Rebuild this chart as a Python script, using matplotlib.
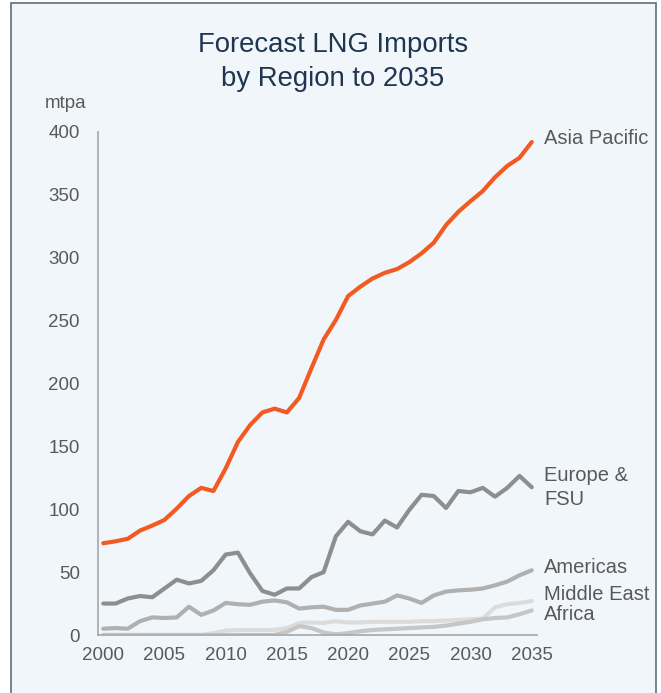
import matplotlib
matplotlib.use("Agg")
import matplotlib.pyplot as plt
from matplotlib.patches import Rectangle

plt.rcParams['font.family'] = ['Liberation Sans', 'DejaVu Sans']

# years 2000-2035
years = list(range(2000, 2036))

asia_pacific = [73, 74.5, 76.5, 83, 87, 91.5, 100.5, 110.5, 117, 114.5,
                132.5, 153.5, 167, 177, 180, 177, 188.5, 212, 235, 250.5,
                269.5, 277, 283.5, 288, 291, 296.5, 303.5, 312, 326, 336.5,
                345, 353, 364, 373, 379.5, 392]
europe_fsu = [25, 25, 29, 31, 30, 37, 44, 41, 43, 51.5,
              64, 65.5, 49, 35, 32, 37, 37, 46, 50, 78.5,
              90, 82.5, 80, 91, 85.5, 99.5, 111.5, 110.5, 101, 114.5,
              113.5, 117, 110, 117, 126.5, 117.5]
americas = [5, 5.5, 5, 11, 14, 13.5, 14, 22.5, 16, 19.5,
            25.5, 24.5, 24, 26.5, 27.5, 26, 21, 22, 22.5, 20,
            20, 23.5, 25, 26.5, 31.5, 29, 25.5, 31.5, 34.5, 35.5,
            36, 37, 39.5, 42.5, 47.5, 51.5]
middle_east = [0, 0, 0, 0, 0, 0, 0, 0, 0, 1.5,
               3.5, 4, 4, 4, 4, 5.5, 9.5, 10, 9.5, 11,
               10, 10, 10.5, 10.5, 10.5, 10.5, 11, 11, 11.5, 12,
               12.5, 13, 22, 24.5, 25.5, 27]
africa = [0, 0, 0, 0, 0, 0, 0, 0, 0, 0,
          0, 0, 0, 0, 0, 2.5, 7, 5.5, 2, 0.5,
          1.5, 3, 4, 4.5, 5, 5.5, 6, 6.5, 7.5, 9,
          10.5, 12.5, 13.5, 14, 16.5, 19.5]

series = [
    (middle_east, '#dcdcdc'),
    (africa, '#c6c6c6'),
    (americas, '#b0b0b0'),
    (europe_fsu, '#8e8e8e'),
    (asia_pacific, '#f15a22'),
]
region_labels = [('Asia Pacific', 395), ('Europe &\nFSU', 117),
                 ('Americas', 54), ('Middle East', 32.5), ('Africa', 16)]

fig = plt.figure(figsize=(6.61, 6.93), dpi=100)
fig.patch.set_facecolor('white')

# panel background with border
panel = Rectangle((11 / 661, -0.05), 645 / 661, 1 - 3 / 693 + 0.05,
                  transform=fig.transFigure, facecolor='#f1f6fb',
                  edgecolor='#5b6f82', linewidth=1.2, zorder=-10)
fig.patches.append(panel)

ax = fig.add_axes([98 / 661, 58 / 693, 439 / 661, 503 / 693])
ax.set_facecolor('none')
ax.set_zorder(1)

for vals, col in series:
    ax.plot(years, vals, color=col, linewidth=3.0, solid_capstyle='round',
            solid_joinstyle='round')

ax.set_xlim(1999.57, 2035.43)
ax.set_ylim(0, 400)
ax.set_xticks(range(2000, 2036, 5))
ax.set_yticks(range(0, 401, 50))
ax.tick_params(length=0, labelsize=13.5, labelcolor='#595959')
ax.tick_params(axis='y', pad=13)
ax.tick_params(axis='x', pad=9)

for s in ['top', 'right']:
    ax.spines[s].set_visible(False)
for s in ['left', 'bottom']:
    ax.spines[s].set_color('#a6a6a6')
    ax.spines[s].set_linewidth(1.2)

for txt, yv in region_labels:
    ax.text(2036, yv, txt, fontsize=14.5, color='#595959', va='center',
            ha='left', clip_on=False, linespacing=1.35)

fig.text(333 / 661, 1 - 62 / 693, 'Forecast LNG Imports\nby Region to 2035',
         ha='center', va='center', fontsize=19.8, color='#1f3550',
         linespacing=1.35)
fig.text(45 / 661, 1 - 103 / 693, 'mtpa', ha='left', va='center',
         fontsize=13.5, color='#595959')

fig.savefig('out.png', dpi=100)
